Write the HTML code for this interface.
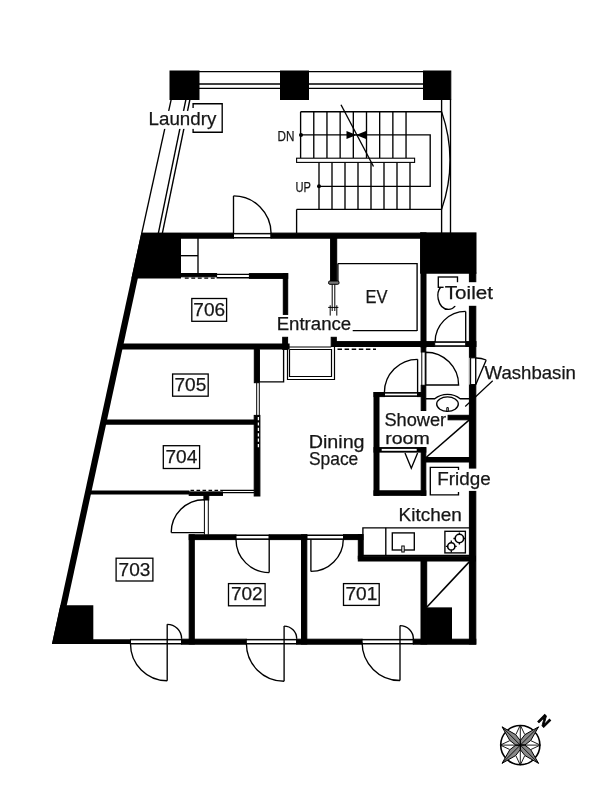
<!DOCTYPE html>
<html><head><meta charset="utf-8"><style>
html,body{margin:0;padding:0;background:#fff;}
svg{display:block;}
text{font-family:"Liberation Sans",sans-serif;fill:#161616;stroke:#161616;stroke-width:0.25px;} svg{will-change:transform;}
</style></head><body>
<svg width="612" height="800" viewBox="0 0 612 800" stroke="#000" fill="none" stroke-linecap="butt">
<rect x="0" y="0" width="612" height="800" fill="#fff" stroke="none"/>
<rect x="170.00" y="71.00" width="29.00" height="28.50" fill="#000"/>
<rect x="280.50" y="71.00" width="28.00" height="28.50" fill="#000"/>
<rect x="423.50" y="71.00" width="27.30" height="28.50" fill="#000"/>
<line x1="170.00" y1="71.60" x2="450.80" y2="71.60" stroke-width="1.3"/>
<line x1="199.00" y1="84.00" x2="280.50" y2="84.00" stroke-width="1.35"/>
<line x1="308.50" y1="84.00" x2="423.50" y2="84.00" stroke-width="1.35"/>
<line x1="199.00" y1="88.40" x2="280.50" y2="88.40" stroke-width="1.35"/>
<line x1="308.50" y1="88.40" x2="423.50" y2="88.40" stroke-width="1.35"/>
<line x1="171.20" y1="99.50" x2="141.60" y2="234.00" stroke-width="1.3"/>
<line x1="185.90" y1="99.50" x2="158.20" y2="234.00" stroke-width="1.35"/>
<line x1="189.90" y1="99.50" x2="162.20" y2="234.00" stroke-width="1.35"/>
<line x1="441.60" y1="99.50" x2="441.60" y2="233.00" stroke-width="1.35"/>
<line x1="450.50" y1="99.50" x2="450.50" y2="233.00" stroke-width="1.35"/>
<path d="M441.6,111.6 A150,150 0 0 1 441.6,209.4" stroke-width="1.35" fill="none"/>
<line x1="300.60" y1="111.70" x2="441.60" y2="111.70" stroke-width="1.35"/>
<line x1="300.60" y1="111.70" x2="300.60" y2="158.00" stroke-width="1.35"/>
<line x1="313.78" y1="111.70" x2="313.78" y2="158.00" stroke-width="1.35"/>
<line x1="326.96" y1="111.70" x2="326.96" y2="158.00" stroke-width="1.35"/>
<line x1="340.14" y1="111.70" x2="340.14" y2="158.00" stroke-width="1.35"/>
<line x1="353.32" y1="111.70" x2="353.32" y2="158.00" stroke-width="1.35"/>
<line x1="366.50" y1="111.70" x2="366.50" y2="158.00" stroke-width="1.35"/>
<line x1="379.68" y1="111.70" x2="379.68" y2="158.00" stroke-width="1.35"/>
<line x1="392.86" y1="111.70" x2="392.86" y2="158.00" stroke-width="1.35"/>
<line x1="406.04" y1="111.70" x2="406.04" y2="158.00" stroke-width="1.35"/>
<rect x="296.6" y="158.2" width="118" height="4.2" fill="#fff" stroke-width="1.1"/>
<line x1="319.00" y1="162.40" x2="319.00" y2="209.40" stroke-width="1.35"/>
<line x1="332.00" y1="162.40" x2="332.00" y2="209.40" stroke-width="1.35"/>
<line x1="345.00" y1="162.40" x2="345.00" y2="209.40" stroke-width="1.35"/>
<line x1="358.00" y1="162.40" x2="358.00" y2="209.40" stroke-width="1.35"/>
<line x1="371.00" y1="162.40" x2="371.00" y2="209.40" stroke-width="1.35"/>
<line x1="384.00" y1="162.40" x2="384.00" y2="209.40" stroke-width="1.35"/>
<line x1="397.00" y1="162.40" x2="397.00" y2="209.40" stroke-width="1.35"/>
<line x1="410.00" y1="162.40" x2="410.00" y2="209.40" stroke-width="1.35"/>
<line x1="296.60" y1="209.40" x2="441.60" y2="209.40" stroke-width="1.35"/>
<line x1="296.60" y1="209.40" x2="296.60" y2="233.00" stroke-width="1.35"/>
<path d="M301,134.9 H430.2 V186.4 H319" stroke-width="1.35" fill="none"/>
<circle cx="301" cy="134.9" r="2" fill="#000" stroke="none"/>
<circle cx="319" cy="186.3" r="2" fill="#000" stroke="none"/>
<line x1="341.00" y1="104.80" x2="373.50" y2="166.50" stroke-width="1.35"/>
<polygon points="346.50,131.00 346.50,139.00 356.50,135.00" fill="#000" stroke="none"/>
<polygon points="366.00,131.00 366.00,139.00 356.00,135.00" fill="#000" stroke="none"/>
<text x="277.6" y="140.5" font-size="14.5" text-anchor="start" textLength="16.9" lengthAdjust="spacingAndGlyphs" fill="#333">DN</text>
<text x="295.6" y="192.1" font-size="14" text-anchor="start" textLength="15.4" lengthAdjust="spacingAndGlyphs" fill="#333">UP</text>
<line x1="233.50" y1="195.90" x2="233.50" y2="235.50" stroke-width="1.35"/>
<path d="M233.5,195.9 A37.6,37.6 0 0 1 271.1,233.5" stroke-width="1.35" fill="none"/>
<rect x="233.50" y="233.40" width="37.50" height="4.60" fill="#fff"/>
<line x1="233.50" y1="233.90" x2="271.00" y2="233.90" stroke-width="1"/>
<line x1="233.50" y1="237.50" x2="271.00" y2="237.50" stroke-width="1"/>
<rect x="142.25" y="233.10" width="91.25" height="5.10" fill="#000"/>
<rect x="271.00" y="233.10" width="150.00" height="5.10" fill="#000"/>
<polygon points="141.25,233.10 181.00,233.10 181.00,278.40 131.40,278.40" fill="#000" stroke="none"/>
<rect x="420.60" y="232.90" width="55.40" height="40.30" fill="#000"/>
<polygon points="141.25,233.10 147.65,233.10 58.36,644.00 51.96,644.00" fill="#000" stroke="none"/>
<polygon points="60.37,605.30 93.30,605.30 93.30,644.00 51.96,644.00" fill="#000" stroke="none"/>
<line x1="198.00" y1="238.00" x2="198.00" y2="274.00" stroke-width="1.35"/>
<line x1="181.00" y1="255.70" x2="198.00" y2="255.70" stroke-width="1.35"/>
<rect x="181.00" y="273.50" width="35.60" height="3.30" fill="#000"/>
<line x1="184.8" y1="278.1" x2="216" y2="278.1" stroke-width="1.3" stroke-dasharray="3.9,2.6"/>
<line x1="216.60" y1="274.30" x2="249.40" y2="274.30" stroke-width="1.35"/>
<line x1="216.60" y1="277.70" x2="249.40" y2="277.70" stroke-width="1.35"/>
<rect x="249.40" y="273.60" width="38.30" height="4.80" fill="#000"/>
<rect x="283.30" y="273.60" width="4.40" height="40.80" fill="#000"/>
<rect x="330.60" y="238.00" width="6.10" height="43.00" fill="#000"/>
<path d="M337.9,263.6 H417.1 V331 M337.9,263.6 V282" fill="none" stroke-width="1.35"/>
<line x1="352.00" y1="330.60" x2="417.10" y2="330.60" stroke-width="1.35"/>
<rect x="328.6" y="281" width="10.4" height="3.3" rx="1.2" fill="#777" stroke-width="1"/>
<line x1="332.20" y1="284.30" x2="332.20" y2="311.00" stroke-width="1"/>
<line x1="334.80" y1="284.30" x2="334.80" y2="311.00" stroke-width="1"/>
<line x1="328.20" y1="307.40" x2="338.40" y2="307.40" stroke-width="1"/>
<line x1="330.20" y1="305.30" x2="330.20" y2="315.60" stroke-width="1"/>
<line x1="336.80" y1="305.30" x2="336.80" y2="315.60" stroke-width="1"/>
<rect x="421.00" y="232.90" width="5.00" height="114.10" fill="#000"/>
<rect x="469.40" y="273.00" width="6.40" height="371.00" fill="#000"/>
<polygon points="118.76,343.50 289.60,343.50 289.60,349.40 117.48,349.40" fill="#000" stroke="none"/>
<rect x="282.70" y="337.30" width="4.90" height="12.10" fill="#000"/>
<rect x="331.20" y="337.30" width="5.10" height="9.20" fill="#000"/>
<rect x="336.30" y="341.60" width="98.40" height="4.90" fill="#000"/>
<rect x="465.70" y="341.60" width="10.30" height="4.90" fill="#000"/>
<rect x="434.70" y="341.80" width="31.00" height="4.50" fill="#fff"/>
<line x1="434.70" y1="342.30" x2="465.70" y2="342.30" stroke-width="1"/>
<line x1="434.70" y1="345.80" x2="465.70" y2="345.80" stroke-width="1"/>
<line x1="337.5" y1="349.2" x2="376" y2="349.2" stroke-width="1.5" stroke-dasharray="4.5,2.6"/>
<path d="M287.5,347 V379.5 H334.5 V346.5 M289.5,349.5 V376.5 H331.5 V349.5 H289.5" fill="none" stroke-width="1.2"/>
<line x1="287.60" y1="347.00" x2="331.20" y2="347.00" stroke-width="1.2"/>
<path d="M259.2,349.4 V381.9 H283.6 V349.4" fill="none" stroke-width="1.35"/>
<rect x="438.3" y="277" width="19.2" height="10.3" fill="none" stroke-width="1.35"/>
<path d="M440.6,287.3 C437.5,291 437.6,296 438.2,299 C439.5,305 443,309.4 448.5,309.4 C452,309.4 454,307.5 455.3,305.6" fill="none" stroke-width="1.35"/>
<line x1="465.70" y1="311.40" x2="465.70" y2="341.80" stroke-width="1.35"/>
<path d="M465.7,311.4 A30.6,30.6 0 0 0 435.1,342" stroke-width="1.35" fill="none"/>
<polygon points="102.26,419.40 259.90,419.40 259.90,424.80 101.09,424.80" fill="#000" stroke="none"/>
<rect x="254.30" y="346.50" width="4.90" height="36.20" fill="#000"/>
<line x1="256.70" y1="382.70" x2="256.70" y2="415.40" stroke-width="1"/>
<line x1="259.30" y1="382.70" x2="259.30" y2="415.40" stroke-width="1"/>
<rect x="254.20" y="415.40" width="5.70" height="80.60" fill="#000"/>
<line x1="258.4" y1="417" x2="258.4" y2="449" stroke="#fff" stroke-width="1.3" stroke-dasharray="3.2,2.2"/>
<polygon points="86.79,490.60 189.40,490.60 189.40,494.60 85.92,494.60" fill="#000" stroke="none"/>
<rect x="189.20" y="491.90" width="33.30" height="3.50" fill="#000"/>
<line x1="190.5" y1="490.3" x2="221" y2="490.3" stroke-width="1.3" stroke-dasharray="3.6,2.4"/>
<line x1="220.50" y1="490.40" x2="254.20" y2="490.40" stroke-width="1.35"/>
<line x1="220.50" y1="492.60" x2="254.20" y2="492.60" stroke-width="1.35"/>
<rect x="203.90" y="495.30" width="4.90" height="4.70" fill="#000"/>
<line x1="204.40" y1="500.00" x2="204.40" y2="534.70" stroke-width="1"/>
<line x1="208.30" y1="500.00" x2="208.30" y2="534.70" stroke-width="1"/>
<line x1="171.20" y1="532.60" x2="204.40" y2="532.60" stroke-width="1.35"/>
<path d="M171.2,532.6 A32.9,32.9 0 0 1 204.1,499.7" stroke-width="1.35" fill="none"/>
<rect x="189.20" y="534.80" width="46.80" height="4.80" fill="#000"/>
<rect x="236.00" y="535.00" width="33.20" height="4.40" fill="#fff"/>
<line x1="236.00" y1="535.50" x2="269.20" y2="535.50" stroke-width="1"/>
<line x1="236.00" y1="538.90" x2="269.20" y2="538.90" stroke-width="1"/>
<rect x="269.20" y="534.80" width="37.60" height="4.80" fill="#000"/>
<rect x="306.80" y="535.00" width="36.70" height="4.40" fill="#fff"/>
<line x1="306.80" y1="535.50" x2="343.50" y2="535.50" stroke-width="1"/>
<line x1="306.80" y1="538.90" x2="343.50" y2="538.90" stroke-width="1"/>
<rect x="343.50" y="534.60" width="19.40" height="5.00" fill="#000"/>
<rect x="189.20" y="534.80" width="5.10" height="109.20" fill="#000"/>
<rect x="301.50" y="534.80" width="5.30" height="109.20" fill="#000"/>
<line x1="269.20" y1="539.40" x2="269.20" y2="572.60" stroke-width="1.35"/>
<path d="M236,539.4 A33.2,33.2 0 0 0 269.2,572.6" stroke-width="1.35" fill="none"/>
<line x1="310.90" y1="539.20" x2="310.90" y2="571.40" stroke-width="1.35"/>
<path d="M310.9,571.4 A32.4,32.4 0 0 0 343.3,539.2" stroke-width="1.35" fill="none"/>
<rect x="358.30" y="534.60" width="4.60" height="24.20" fill="#000"/>
<rect x="358.30" y="556.20" width="117.20" height="4.80" fill="#000"/>
<path d="M362.9,556 V527.8 H469.5" fill="none" stroke-width="1.35"/>
<line x1="385.80" y1="527.80" x2="385.80" y2="555.60" stroke-width="1.35"/>
<line x1="362.90" y1="555.40" x2="469.50" y2="555.40" stroke-width="1.1"/>
<rect x="392.3" y="532.9" width="22" height="17.1" fill="none" stroke-width="1.35"/>
<rect x="401.8" y="546" width="2.4" height="6" fill="#fff" stroke-width="1"/>
<rect x="444.9" y="531.3" width="20.5" height="21.6" fill="none" stroke-width="1.35"/>
<circle cx="451.3" cy="546.4" r="3.6" fill="none" stroke-width="1.6"/>
<circle cx="459.4" cy="538.5" r="4.2" fill="none" stroke-width="1.6"/>
<path d="M451.3,540.4 V542.6 M451.3,550.2 V552.6 M445.8,546.4 H447.5 M455.1,546.4 H456.7 M459.4,532.5 V534.3 M459.4,542.7 V544.6 M453.4,538.5 H455.2 M463.6,538.5 H465" fill="none" stroke-width="1.3"/>
<rect x="421.00" y="560.40" width="5.70" height="83.60" fill="#000"/>
<line x1="426.70" y1="607.20" x2="469.50" y2="561.60" stroke-width="1.6"/>
<rect x="426.70" y="607.90" width="24.80" height="33.10" fill="#000"/>
<rect x="421.20" y="341.60" width="4.60" height="10.40" fill="#000"/>
<line x1="421.80" y1="352.00" x2="421.80" y2="385.30" stroke-width="1"/>
<line x1="425.20" y1="352.00" x2="425.20" y2="385.30" stroke-width="1"/>
<rect x="421.20" y="385.30" width="4.60" height="25.20" fill="#000"/>
<path d="M425.8,352.2 A32.8,32.8 0 0 1 458.6,385 H425.8 Z" fill="none" stroke-width="1.35"/>
<line x1="417.60" y1="359.30" x2="417.60" y2="392.70" stroke-width="1.35"/>
<path d="M417.6,359.3 A33.2,33.2 0 0 0 384.4,392.5" stroke-width="1.35" fill="none"/>
<rect x="384.40" y="392.60" width="33.20" height="3.80" fill="#fff"/>
<line x1="384.40" y1="393.10" x2="417.60" y2="393.10" stroke-width="1"/>
<line x1="384.40" y1="395.90" x2="417.60" y2="395.90" stroke-width="1"/>
<rect x="374.00" y="392.50" width="10.40" height="4.10" fill="#000"/>
<rect x="417.60" y="392.50" width="3.60" height="4.10" fill="#000"/>
<rect x="374.00" y="392.50" width="5.00" height="102.80" fill="#000"/>
<rect x="374.00" y="447.60" width="51.80" height="4.50" fill="#000"/>
<rect x="381.7" y="448.9" width="35" height="1.9" fill="#fff" stroke="none"/>
<rect x="374.00" y="490.80" width="51.80" height="4.50" fill="#000"/>
<rect x="421.20" y="447.60" width="4.60" height="47.70" fill="#000"/>
<path d="M405,453 L411.3,468.3 L417.6,453" fill="none" stroke-width="1.35"/>
<rect x="425.80" y="457.50" width="44.20" height="4.50" fill="#000"/>
<line x1="425.80" y1="457.80" x2="469.60" y2="419.60" stroke-width="1.5"/>
<rect x="448.10" y="415.30" width="21.90" height="4.50" fill="#000"/>
<path d="M425.9,398.7 H434.7 C438,396 442,394.3 447.5,394.3 C453,394.3 457,396 460.2,398.7 H469.5" fill="none" stroke-width="1.35"/>
<ellipse cx="447.5" cy="404.1" rx="10.8" ry="7.3" fill="none" stroke-width="1.35"/>
<path d="M446.8,412 V407.6 H448.3 V411" fill="none" stroke-width="1"/>
<rect x="469.4" y="357.8" width="6.4" height="26.8" fill="#fff" stroke="none"/>
<rect x="470.6" y="357.8" width="5" height="26.8" fill="none" stroke-width="1.1"/>
<path d="M475.8,384.4 L486.2,360 M475.8,358 A26.4,26.4 0 0 1 486.2,360" stroke-width="1.35" fill="none"/>
<line x1="492.70" y1="380.80" x2="465.20" y2="406.50" stroke-width="1.2"/>
<polygon points="54.50,639.20 130.50,639.20 130.50,644.00 53.46,644.00" fill="#000" stroke="none"/>
<rect x="130.50" y="639.40" width="51.10" height="4.60" fill="#fff"/>
<line x1="130.50" y1="639.90" x2="181.60" y2="639.90" stroke-width="1"/>
<line x1="130.50" y1="643.50" x2="181.60" y2="643.50" stroke-width="1"/>
<rect x="181.60" y="639.20" width="64.70" height="5.00" fill="#000"/>
<rect x="246.30" y="639.40" width="50.40" height="4.60" fill="#fff"/>
<line x1="246.30" y1="639.90" x2="296.70" y2="639.90" stroke-width="1"/>
<line x1="246.30" y1="643.50" x2="296.70" y2="643.50" stroke-width="1"/>
<rect x="296.70" y="639.20" width="65.40" height="5.00" fill="#000"/>
<rect x="362.10" y="639.40" width="51.20" height="4.60" fill="#fff"/>
<line x1="362.10" y1="639.90" x2="413.30" y2="639.90" stroke-width="1"/>
<line x1="362.10" y1="643.50" x2="413.30" y2="643.50" stroke-width="1"/>
<rect x="413.30" y="639.20" width="62.50" height="5.00" fill="#000"/>
<line x1="167.20" y1="624.30" x2="167.20" y2="680.70" stroke-width="1.35"/>
<path d="M130.5,644 A36.7,36.7 0 0 0 167.2,680.7" stroke-width="1.35" fill="none"/>
<path d="M167.2,624.3 A14.4,14.4 0 0 1 181.6,638.7" stroke-width="1.35" fill="none"/>
<line x1="284.10" y1="626.10" x2="284.10" y2="681.20" stroke-width="1.35"/>
<path d="M246.4,643.5 A37.7,37.7 0 0 0 284.1,681.2" stroke-width="1.35" fill="none"/>
<path d="M284.1,626.1 A12.6,12.6 0 0 1 296.7,638.7" stroke-width="1.35" fill="none"/>
<line x1="400.00" y1="625.60" x2="400.00" y2="680.50" stroke-width="1.35"/>
<path d="M362.1,642.6 A37.9,37.9 0 0 0 400,680.5" stroke-width="1.35" fill="none"/>
<path d="M400,625.6 A13.4,13.4 0 0 1 413.4,639" stroke-width="1.35" fill="none"/>
<rect x="191.8" y="298.5" width="34.8" height="22.8" fill="#fff" stroke-width="1.3"/>
<text x="209.2" y="315.8" font-size="19.2" text-anchor="middle" textLength="31.8" lengthAdjust="spacingAndGlyphs">706</text>
<rect x="172.6" y="374" width="35.6" height="22.2" fill="#fff" stroke-width="1.3"/>
<text x="190.4" y="390.7" font-size="19.2" text-anchor="middle" textLength="31.8" lengthAdjust="spacingAndGlyphs">705</text>
<rect x="163.3" y="445.7" width="36.3" height="22.8" fill="#fff" stroke-width="1.3"/>
<text x="181.4" y="463.0" font-size="19.2" text-anchor="middle" textLength="31.8" lengthAdjust="spacingAndGlyphs">704</text>
<rect x="116.1" y="558.2" width="36.8" height="22.8" fill="#fff" stroke-width="1.3"/>
<text x="134.5" y="575.5" font-size="19.2" text-anchor="middle" textLength="31.8" lengthAdjust="spacingAndGlyphs">703</text>
<rect x="228.5" y="583.6" width="36.6" height="22.2" fill="#fff" stroke-width="1.3"/>
<text x="246.8" y="600.3" font-size="19.2" text-anchor="middle" textLength="31.8" lengthAdjust="spacingAndGlyphs">702</text>
<rect x="343.5" y="583.6" width="35.7" height="21.8" fill="#fff" stroke-width="1.3"/>
<text x="361.4" y="599.9" font-size="19.2" text-anchor="middle" textLength="31.8" lengthAdjust="spacingAndGlyphs">701</text>
<path d="M193.1,108 V103.7 H222.2 V132.2 H193.1 V128" fill="none" stroke-width="1.35"/>
<rect x="147.1" y="110.9" width="70.7" height="18" fill="#fff" stroke="none"/>
<text x="148.6" y="124.9" font-size="19" text-anchor="start" textLength="67.7" lengthAdjust="spacingAndGlyphs">Laundry</text>
<rect x="443.6" y="282.2" width="50.5" height="23.6" fill="#fff" stroke="none"/>
<text x="444.8" y="298.5" font-size="18" text-anchor="start" textLength="48.1" lengthAdjust="spacingAndGlyphs">Toilet</text>
<rect x="275.2" y="316" width="77.5" height="18" fill="#fff" stroke="none"/>
<text x="276.7" y="330" font-size="18" text-anchor="start" textLength="74.5" lengthAdjust="spacingAndGlyphs">Entrance</text>
<text x="376.4" y="303" font-size="18" text-anchor="middle" textLength="22" lengthAdjust="spacingAndGlyphs">EV</text>
<text x="484.6" y="378.5" font-size="18.5" text-anchor="start" textLength="91.3" lengthAdjust="spacingAndGlyphs">Washbasin</text>
<text x="308.7" y="447.8" font-size="18.5" text-anchor="start" textLength="55.9" lengthAdjust="spacingAndGlyphs">Dining</text>
<text x="308.9" y="465.4" font-size="18.5" text-anchor="start" textLength="49.4" lengthAdjust="spacingAndGlyphs">Space</text>
<rect x="436.3" y="468.6" width="56" height="22.3" fill="#fff" stroke="none"/>
<path d="M458.5,470 V467.3 H430.3 V494.8 H458.5 V492" fill="none" stroke-width="1.35"/>
<text x="437.3" y="484.6" font-size="18" text-anchor="start" textLength="53.4" lengthAdjust="spacingAndGlyphs">Fridge</text>
<text x="398.6" y="521.4" font-size="17.5" text-anchor="start" textLength="63.2" lengthAdjust="spacingAndGlyphs">Kitchen</text>
<text x="384.4" y="425.9" font-size="17.5" text-anchor="start" textLength="61.8" lengthAdjust="spacingAndGlyphs">Shower</text>
<text x="385.2" y="443.6" font-size="17.2" text-anchor="start" textLength="44.6" lengthAdjust="spacingAndGlyphs">room</text>
<g transform="translate(520.3,745.1)" stroke-width="1.1" stroke-linejoin="miter">
<circle r="19.6" fill="#fff" stroke-width="1.6"/>
<path d="M-4.40,-10.62 L0.00,-20.00 L4.40,-10.62" fill="#fff" stroke-width="0.9"/>
<path d="M10.62,-4.40 L20.00,0.00 L10.62,4.40" fill="#fff" stroke-width="0.9"/>
<path d="M4.40,10.62 L0.00,20.00 L-4.40,10.62" fill="#fff" stroke-width="0.9"/>
<path d="M-10.62,4.40 L-20.00,0.00 L-10.62,-4.40" fill="#fff" stroke-width="0.9"/>
<path d="M18.24,-18.24 L4.68,-10.51 L0.00,-4.50 L0,0 L4.50,0.00 L10.51,-4.68 Z" fill="#888" stroke-width="1"/>
<path d="M18.24,18.24 L10.51,4.68 L4.50,0.00 L0,0 L0.00,4.50 L4.68,10.51 Z" fill="#888" stroke-width="1"/>
<path d="M-18.24,18.24 L-4.68,10.51 L0.00,4.50 L0,0 L-4.50,0.00 L-10.51,4.68 Z" fill="#888" stroke-width="1"/>
<path d="M-18.24,-18.24 L-10.51,-4.68 L-4.50,0.00 L0,0 L-0.00,-4.50 L-4.68,-10.51 Z" fill="#888" stroke-width="1"/>
<line x1="0" y1="0" x2="18.24" y2="-18.24" stroke-width="0.9"/>
<line x1="0" y1="0" x2="18.24" y2="18.24" stroke-width="0.9"/>
<line x1="0" y1="0" x2="-18.24" y2="18.24" stroke-width="0.9"/>
<line x1="0" y1="0" x2="-18.24" y2="-18.24" stroke-width="0.9"/>
<line x1="-20" y1="0" x2="20" y2="0" stroke-width="0.9"/><line x1="0" y1="-20" x2="0" y2="20" stroke-width="0.9"/>
</g>
<text x="0" y="4.9" font-size="14.5" font-weight="bold" text-anchor="middle" style="fill:#000;stroke:#000;stroke-width:0.8" transform="translate(544.2,721) rotate(45)">N</text>
</svg>
</body></html>
